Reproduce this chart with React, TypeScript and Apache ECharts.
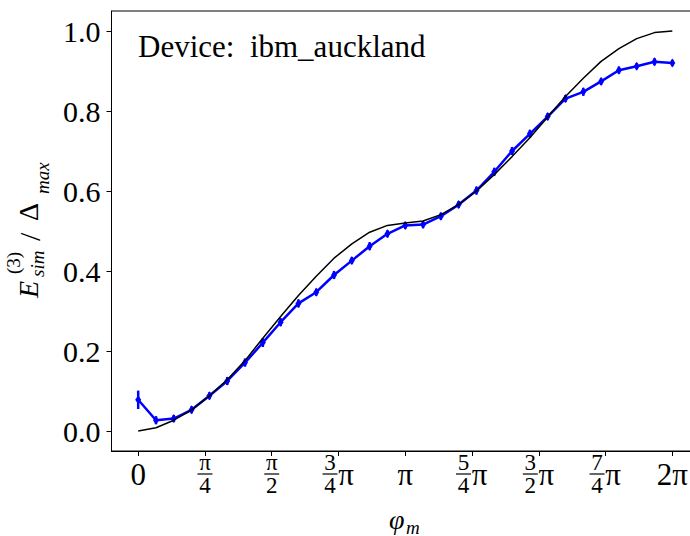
import React, { useEffect, useRef } from "react";
import * as echarts from "echarts";

// phase values φ_m (radians), 31 samples from 0 to 2π
const phases = [
  0, 0.2094, 0.4189, 0.6283, 0.8378, 1.0472, 1.2566, 1.4661, 1.6755, 1.885,
  2.0944, 2.3038, 2.5133, 2.7227, 2.9322, 3.1416, 3.351, 3.5605, 3.7699, 3.9794,
  4.1888, 4.3982, 4.6077, 4.8171, 5.0265, 5.236, 5.4454, 5.6549, 5.8643, 6.0737, 6.2832,
];

// measured (ibm_auckland) values
const deviceValues = [
  0.078, 0.027, 0.031, 0.053, 0.088, 0.125, 0.171, 0.221, 0.272, 0.319,
  0.347, 0.39, 0.426, 0.462, 0.493, 0.514, 0.516, 0.537, 0.566, 0.601,
  0.648, 0.7, 0.743, 0.786, 0.831, 0.848, 0.874, 0.902, 0.912, 0.923, 0.92,
];

// error bar half-lengths
const deviceErrors = [
  0.023, 0.01, 0.009, 0.009, 0.009, 0.01, 0.01, 0.011, 0.01, 0.01,
  0.009, 0.01, 0.009, 0.01, 0.009, 0.009, 0.009, 0.009, 0.009, 0.01,
  0.01, 0.01, 0.01, 0.009, 0.009, 0.01, 0.009, 0.009, 0.008, 0.009, 0.008,
];

// exact (simulated) curve
const exactValues = [
  0.0, 0.008, 0.027, 0.053, 0.088, 0.128, 0.176, 0.232, 0.286, 0.339,
  0.387, 0.432, 0.468, 0.497, 0.514, 0.52, 0.525, 0.541, 0.566, 0.6,
  0.641, 0.686, 0.733, 0.785, 0.836, 0.882, 0.924, 0.956, 0.981, 0.996, 1.0,
];

const xTickValues = [0, 0.7854, 1.5708, 2.3562, 3.1416, 3.927, 4.7124, 5.4978, 6.2832];
const xTickLabels = ["0", "π/4", "π/2", "3/4π", "π", "5/4π", "3/2π", "7/4π", "2π"];
const yTickValues = [0, 0.2, 0.4, 0.6, 0.8, 1.0];
const yTickLabels = ["0.0", "0.2", "0.4", "0.6", "0.8", "1.0"];

const FONT = "'Liberation Serif', 'DejaVu Serif', serif";

function richLabel(lbl: string): string {
  if (lbl === "0" || lbl === "π" || lbl === "2π") return `{big|${lbl}}`;
  if (lbl.startsWith("π/")) {
    const d = lbl.slice(2);
    return `{fn|π}\n{bar| }\n{fn|${d}}`;
  }
  // form "a/bπ"
  const [a, rest] = lbl.split("/");
  const b = rest.replace("π", "");
  return `{fn|${a}}{gap| }\n{bar| }{pi|π}\n{fn|${b}}{gap| }`;
}

export default function App() {
  const ref = useRef<HTMLDivElement>(null);
  useEffect(() => {
    if (!ref.current) return;
    const chart = echarts.init(ref.current, null, { renderer: "svg" });
    const deviceData = phases.map((x, i) => [x, deviceValues[i]]);
    const exactData = phases.map((x, i) => [x, exactValues[i]]);
    const errData = phases.map((x, i) => [
      x,
      deviceValues[i] - deviceErrors[i],
      deviceValues[i] + deviceErrors[i],
    ]);
    const blue = "#0000ff";
    chart.setOption({
      animation: false,
      backgroundColor: "#ffffff",
      grid: {
        left: 111.5,
        top: 11,
        width: 587.5,
        height: 440,
        show: true,
        borderColor: "#000",
        borderWidth: 1,
        containLabel: false,
        outerBoundsMode: "none",
      },
      xAxis: {
        type: "value",
        min: -0.314,
        max: 6.597,
        axisLine: { show: true, onZero: false, lineStyle: { color: "#000", width: 1 } },
        axisTick: {
          show: true,
          length: 5,
          customValues: xTickValues,
          lineStyle: { color: "#000", width: 1 },
        },
        splitLine: { show: false },
        axisLabel: {
          customValues: xTickValues,
          margin: 23,
          verticalAlign: "middle",
          color: "#000",
          fontFamily: FONT,
          formatter: (v: number) => {
            let best = 0;
            for (let i = 0; i < xTickValues.length; i++) {
              if (Math.abs(xTickValues[i] - v) < Math.abs(xTickValues[best] - v)) best = i;
            }
            return richLabel(xTickLabels[best]);
          },
          rich: {
            big: { fontSize: 31, fontFamily: FONT, color: "#000", lineHeight: 31 },
            fn: {
              fontSize: 23,
              fontFamily: FONT,
              color: "#000",
              lineHeight: 17,
              width: 15,
              align: "center",
            },
            bar: {
              width: 15,
              height: 1.2,
              lineHeight: 6,
              backgroundColor: "#000",
              fontSize: 1,
            },
            gap: { width: 17, fontSize: 10, lineHeight: 17 },
            pi: {
              fontSize: 31,
              fontFamily: FONT,
              color: "#000",
              lineHeight: 6,
              width: 17,
              align: "center",
            },
          },
        },
      },
      yAxis: {
        type: "value",
        min: -0.05,
        max: 1.05,
        axisLine: { show: true, onZero: false, lineStyle: { color: "#000", width: 1 } },
        axisTick: {
          show: true,
          length: 5,
          customValues: yTickValues,
          lineStyle: { color: "#000", width: 1 },
        },
        splitLine: { show: false },
        axisLabel: {
          customValues: yTickValues,
          margin: 11,
          color: "#000",
          fontSize: 30,
          fontFamily: FONT,
          formatter: (v: number) => {
            let best = 0;
            for (let i = 0; i < yTickValues.length; i++) {
              if (Math.abs(yTickValues[i] - v) < Math.abs(yTickValues[best] - v)) best = i;
            }
            return yTickLabels[best];
          },
        },
      },
      series: [
        {
          type: "custom",
          name: "errors",
          clip: true,
          z: 2,
          renderItem: (params: any, api: any) => {
            const x = api.value(0);
            const p1 = api.coord([x, api.value(1)]);
            const p2 = api.coord([x, api.value(2)]);
            return {
              type: "line",
              shape: { x1: p1[0], y1: p1[1], x2: p2[0], y2: p2[1] },
              style: { stroke: blue, lineWidth: 2.5 },
            };
          },
          data: errData,
        },
        {
          type: "line",
          name: "ibm_auckland",
          data: deviceData,
          z: 3,
          symbol: "diamond",
          symbolSize: [6, 9],
          showSymbol: true,
          itemStyle: { color: blue },
          lineStyle: { color: blue, width: 2.5 },
        },
        {
          type: "line",
          name: "exact",
          data: exactData,
          z: 4,
          symbol: "none",
          lineStyle: { color: "#000", width: 1.5 },
        },
      ],
      graphic: [
        {
          type: "text",
          left: 138,
          top: 31,
          style: {
            text: "Device:  ibm_auckland",
            fontSize: 31,
            fontFamily: FONT,
            fill: "#000",
          },
        },
        {
          type: "group",
          x: 38,
          y: 299,
          rotation: Math.PI / 2,
          children: [
            { type: "text", x: 1, y: -9.5, style: { text: "E", fontSize: 28, fontStyle: "italic", fontFamily: FONT, fill: "#000", verticalAlign: "middle", align: "left" } },
            { type: "text", x: 25, y: -25, style: { text: "(3)", fontSize: 19, fontFamily: FONT, fill: "#000", verticalAlign: "middle", align: "left" } },
            { type: "text", x: 22, y: -1, style: { text: "sim", fontSize: 19, fontStyle: "italic", fontFamily: FONT, fill: "#000", verticalAlign: "middle", align: "left" } },
            { type: "text", x: 58, y: -9, style: { text: "/", fontSize: 30, fontFamily: FONT, fill: "#000", verticalAlign: "middle", align: "left" } },
            { type: "text", x: 78, y: -9.5, style: { text: "Δ", fontSize: 28, fontFamily: FONT, fill: "#000", verticalAlign: "middle", align: "left" } },
            { type: "text", x: 105, y: 4, style: { text: "max", fontSize: 19, fontStyle: "italic", fontFamily: FONT, fill: "#000", verticalAlign: "middle", align: "left" } },
          ],
        },
        {
          type: "text",
          x: 389,
          y: 519,
          style: { text: "φ", fontSize: 28, fontStyle: "italic", fontFamily: FONT, fill: "#000", verticalAlign: "middle", align: "left" },
        },
        {
          type: "text",
          x: 406,
          y: 527,
          style: { text: "m", fontSize: 19, fontStyle: "italic", fontFamily: FONT, fill: "#000", verticalAlign: "middle", align: "left" },
        },
      ],
    });
    return () => chart.dispose();
  }, []);
  return (
    <div
      ref={ref}
      style={{ position: "fixed", left: 0, top: 0, width: 690, height: 536, background: "#fff" }}
    />
  );
}
